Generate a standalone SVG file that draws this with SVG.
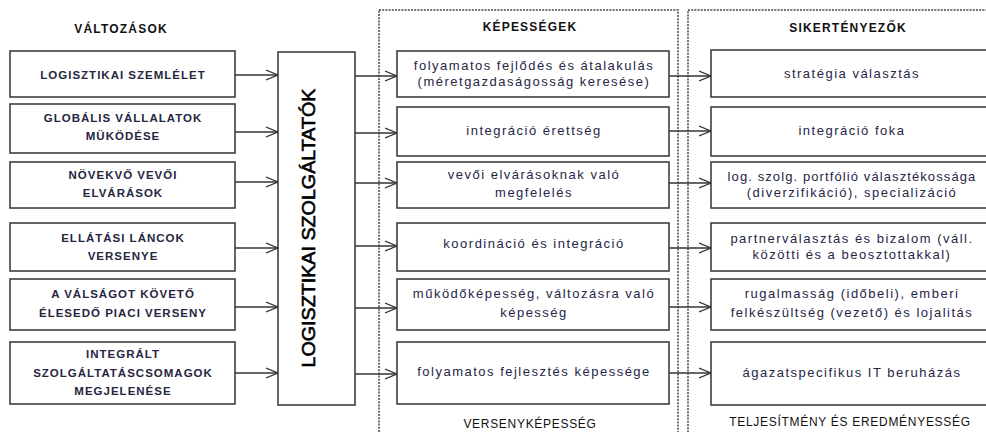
<svg xmlns="http://www.w3.org/2000/svg" width="986" height="432" viewBox="0 0 986 432">
<defs>
<style>
.box{fill:#fff;stroke:#333;stroke-width:1.5}
.cont{fill:none;stroke:#444;stroke-width:1.5;stroke-dasharray:2 1.2}
.ln{fill:none;stroke:#333;stroke-width:1.3}
.up{font-family:"Liberation Sans",Arial,sans-serif;font-weight:bold;font-size:11.5px;letter-spacing:1px;fill:#262640;text-anchor:middle}
.lo{font-family:"Liberation Sans",Arial,sans-serif;font-size:13px;letter-spacing:1.5px;fill:#262646;text-anchor:middle}
.tt{font-family:"Liberation Sans",Arial,sans-serif;font-weight:bold;font-size:12px;letter-spacing:1.2px;fill:#111;text-anchor:middle}
.bt{font-family:"Liberation Sans",Arial,sans-serif;font-size:12px;letter-spacing:0.7px;fill:#111;text-anchor:middle}
.big{font-family:"Liberation Sans",Arial,sans-serif;font-size:18px;fill:#000;stroke:#000;stroke-width:0.6;text-anchor:middle}
</style>
<marker id="ah" markerWidth="14" markerHeight="12" refX="12" refY="6" orient="auto" markerUnits="userSpaceOnUse">
<polyline points="0,1 12,6 0,11" fill="none" stroke="#333" stroke-width="1.3"/>
</marker>
</defs>
<rect width="986" height="432" fill="#fff"/>

<g id="containers">
<rect class="cont" x="379" y="10" width="299" height="440"/>
<rect class="cont" x="688" y="10" width="320" height="440"/>
</g>

<g id="titles">
<text class="tt" x="121" y="33">VÁLTOZÁSOK</text>
<text class="tt" x="530" y="31">KÉPESSÉGEK</text>
<text class="tt" x="848" y="32">SIKERTÉNYEZŐK</text>
<text class="bt" x="530" y="428">VERSENYKÉPESSÉG</text>
<text class="bt" x="850" y="426">TELJESÍTMÉNY ÉS EREDMÉNYESSÉG</text>
</g>

<g id="connectors">
<line class="ln" x1="235" y1="75" x2="278" y2="75" marker-end="url(#ah)"/>
<line class="ln" x1="235" y1="132" x2="278" y2="132" marker-end="url(#ah)"/>
<line class="ln" x1="235" y1="182" x2="278" y2="182" marker-end="url(#ah)"/>
<line class="ln" x1="235" y1="248" x2="278" y2="248" marker-end="url(#ah)"/>
<line class="ln" x1="235" y1="307" x2="278" y2="307" marker-end="url(#ah)"/>
<line class="ln" x1="235" y1="373" x2="278" y2="373" marker-end="url(#ah)"/>
<line class="ln" x1="355" y1="76" x2="397" y2="76" marker-end="url(#ah)"/>
<line class="ln" x1="355" y1="133" x2="397" y2="133" marker-end="url(#ah)"/>
<line class="ln" x1="355" y1="183" x2="397" y2="183" marker-end="url(#ah)"/>
<line class="ln" x1="355" y1="246" x2="397" y2="246" marker-end="url(#ah)"/>
<line class="ln" x1="355" y1="308" x2="397" y2="308" marker-end="url(#ah)"/>
<line class="ln" x1="355" y1="374" x2="397" y2="374" marker-end="url(#ah)"/>
<line class="ln" x1="669" y1="76" x2="711" y2="76" marker-end="url(#ah)"/>
<line class="ln" x1="669" y1="131" x2="711" y2="131" marker-end="url(#ah)"/>
<line class="ln" x1="669" y1="183" x2="711" y2="183" marker-end="url(#ah)"/>
<line class="ln" x1="669" y1="248" x2="711" y2="248" marker-end="url(#ah)"/>
<line class="ln" x1="669" y1="307" x2="711" y2="307" marker-end="url(#ah)"/>
<line class="ln" x1="669" y1="373" x2="711" y2="373" marker-end="url(#ah)"/>
</g>

<g id="l1"><rect class="box" x="10" y="51" width="225" height="46"/><text class="up" x="123" y="79">LOGISZTIKAI SZEMLÉLET</text></g>
<g id="l2"><rect class="box" x="10" y="104" width="225" height="49"/><text class="up" x="123" y="122">GLOBÁLIS VÁLLALATOK</text><text class="up" x="123" y="140">MÜKÖDÉSE</text></g>
<g id="l3"><rect class="box" x="10" y="162" width="225" height="46"/><text class="up" x="123" y="179">NÖVEKVŐ VEVŐI</text><text class="up" x="123" y="197">ELVÁRÁSOK</text></g>
<g id="l4"><rect class="box" x="10" y="223" width="225" height="48"/><text class="up" x="123" y="242">ELLÁTÁSI LÁNCOK</text><text class="up" x="123" y="260">VERSENYE</text></g>
<g id="l5"><rect class="box" x="10" y="279" width="225" height="51"/><text class="up" x="123" y="298">A VÁLSÁGOT KÖVETŐ</text><text class="up" x="123" y="317">ÉLESEDŐ PIACI VERSENY</text></g>
<g id="l6"><rect class="box" x="10" y="342" width="225" height="62"/><text class="up" x="123" y="358">INTEGRÁLT</text><text class="up" x="123" y="377">SZOLGÁLTATÁSCSOMAGOK</text><text class="up" x="123" y="395">MEGJELENÉSE</text></g>

<g id="center"><rect class="box" x="278" y="52" width="77" height="353"/><text class="big" transform="translate(315,228) rotate(-90)" x="0" y="0" textLength="279" lengthAdjust="spacingAndGlyphs">LOGISZTIKAI SZOLGÁLTATÓK</text></g>

<g id="m1"><rect class="box" x="397" y="51" width="272" height="46"/><text class="lo" x="534" y="70">folyamatos fejlődés és átalakulás</text><text class="lo" x="534" y="86">(méretgazdaságosság keresése)</text></g>
<g id="m2"><rect class="box" x="397" y="107" width="272" height="49"/><text class="lo" x="534" y="135">integráció érettség</text></g>
<g id="m3"><rect class="box" x="397" y="162" width="272" height="46"/><text class="lo" x="534" y="179">vevői elvárásoknak való</text><text class="lo" x="534" y="197">megfelelés</text></g>
<g id="m4"><rect class="box" x="397" y="223" width="272" height="48"/><text class="lo" x="534" y="248">koordináció és integráció</text></g>
<g id="m5"><rect class="box" x="397" y="279" width="272" height="51"/><text class="lo" x="534" y="298">működőképesség, változásra való</text><text class="lo" x="534" y="317">képesség</text></g>
<g id="m6"><rect class="box" x="397" y="342" width="272" height="62"/><text class="lo" x="534" y="376">folyamatos fejlesztés képessége</text></g>

<g id="r1"><rect class="box" x="711" y="50" width="282" height="47"/><text class="lo" x="852" y="78">stratégia választás</text></g>
<g id="r2"><rect class="box" x="711" y="107" width="282" height="49"/><text class="lo" x="852" y="135">integráció foka</text></g>
<g id="r3"><rect class="box" x="711" y="162" width="282" height="46"/><text class="lo" x="852" y="181" style="letter-spacing:1.1px">log. szolg. portfólió választékossága</text><text class="lo" x="852" y="197">(diverzifikáció), specializáció</text></g>
<g id="r4"><rect class="box" x="711" y="223" width="282" height="48"/><text class="lo" x="852" y="243">partnerválasztás és bizalom (váll.</text><text class="lo" x="852" y="259">közötti és a beosztottakkal)</text></g>
<g id="r5"><rect class="box" x="711" y="279" width="282" height="51"/><text class="lo" x="852" y="298">rugalmasság (időbeli), emberi</text><text class="lo" x="852" y="317">felkészültség (vezető) és lojalitás</text></g>
<g id="r6"><rect class="box" x="711" y="342" width="282" height="63"/><text class="lo" x="852" y="377">ágazatspecifikus IT beruházás</text></g>
</svg>
